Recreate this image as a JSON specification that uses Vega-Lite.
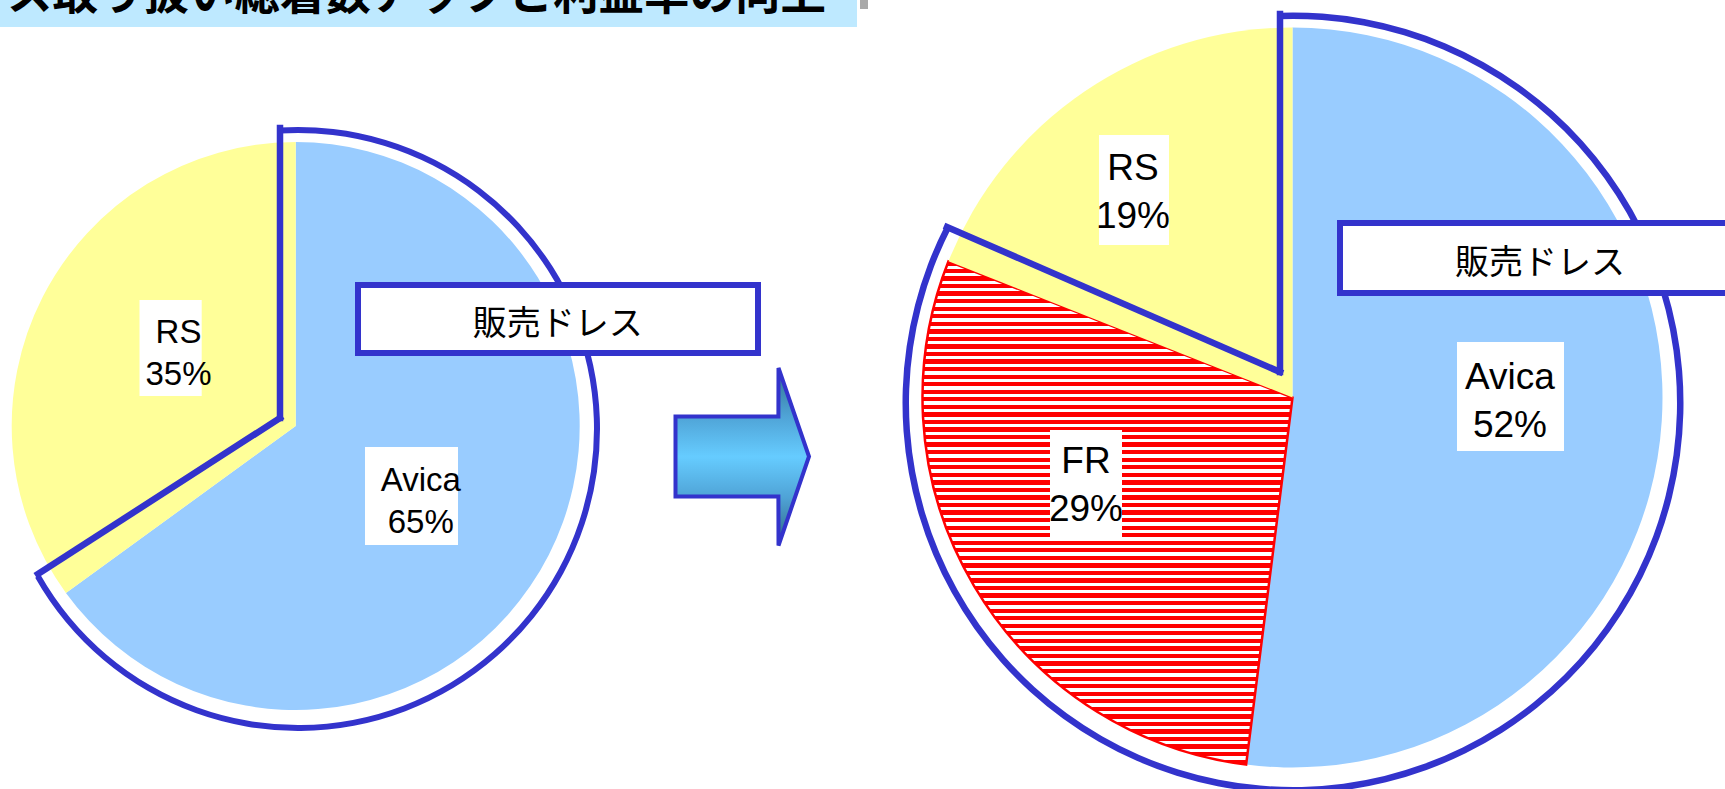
{
  "$schema": "https://vega.github.io/schema/vega-lite/v6.json",
  "width": 1725,
  "height": 789,
  "autosize": "none",
  "padding": 0,
  "background": "white",
  "config": {"view": {"stroke": null}},
  "datasets": {
    "banner": [{"x": 0, "x2": 857, "y": 0, "y2": 27}, {"x": 860, "x2": 868, "y": 0, "y2": 9}],
    "title": [{"text": "ドレス取り扱い総着数アップと利益率の向上", "x": 826, "y": 10}],
    "slices": [
      {"pie": "before", "name": "Avica", "share": 65, "order": 1, "x": 295.7, "y": 426},
      {"pie": "before", "name": "RS", "share": 35, "order": 2, "x": 295.7, "y": 426},
      {"pie": "after", "name": "Avica", "share": 52, "order": 1, "x": 1292.5, "y": 397.5},
      {"pie": "after", "name": "FR", "share": 29, "order": 2, "x": 1292.5, "y": 397.5},
      {"pie": "after", "name": "RS", "share": 19, "order": 3, "x": 1292.5, "y": 397.5}
    ],
    "outline": [
      {"pie": "before", "from": -0.96, "to": 66.8, "x": 298, "y": 429},
      {"pie": "after", "from": -0.53, "to": 82.5, "x": 1293, "y": 403}
    ],
    "outlineEdges": [
      {"x": 280, "y": 128, "x2": 280, "y2": 418},
      {"x": 280, "y": 418, "x2": 38, "y2": 574},
      {"x": 1280, "y": 14, "x2": 1280, "y2": 372},
      {"x": 1280, "y": 372, "x2": 947, "y2": 227}
    ],
    "labelBoxes": [
      {"x": 139.5, "x2": 201.7, "y": 300, "y2": 396},
      {"x": 365, "x2": 458, "y": 447, "y2": 545},
      {"x": 1099, "x2": 1169, "y": 135, "y2": 245},
      {"x": 1050, "x2": 1122, "y": 430, "y2": 539},
      {"x": 1457, "x2": 1564, "y": 342, "y2": 451}
    ],
    "labels": [
      {"pie": "before", "label": "RS\n35%", "x": 178.5, "y": 343.3},
      {"pie": "before", "label": "Avica\n65%", "x": 420.8, "y": 490.7},
      {"pie": "after", "label": "RS\n19%", "x": 1133, "y": 180},
      {"pie": "after", "label": "FR\n29%", "x": 1086, "y": 473},
      {"pie": "after", "label": "Avica\n52%", "x": 1510, "y": 388.5}
    ],
    "groupBoxes": [
      {"x": 358, "x2": 758, "y": 285, "y2": 353},
      {"x": 1340, "x2": 1760, "y": 223, "y2": 293}
    ],
    "groupText": [
      {"text": "販売ドレス", "x": 557.8, "y": 335},
      {"text": "販売ドレス", "x": 1540, "y": 274}
    ],
    "arrow": [
      {"x": 675.5, "y": 416.5, "y2": 496.5},
      {"x": 778.4, "y": 416.5, "y2": 496.5},
      {"x": 778.5, "y": 368, "y2": 545.5},
      {"x": 809, "y": 456.5, "y2": 456.5}
    ]
  },
  "encoding": {
    "x": {"field": "x", "type": "quantitative", "scale": {"domain": [0, 1725], "nice": false, "zero": false}, "axis": null},
    "y": {"field": "y", "type": "quantitative", "scale": {"domain": [0, 789], "nice": false, "zero": false, "reverse": true}, "axis": null}
  },
  "layer": [
    {
      "data": {"name": "banner"},
      "mark": {"type": "rect"},
      "encoding": {"x2": {"field": "x2"}, "y2": {"field": "y2"},
        "fill": {"condition": {"test": "datum.x > 0", "value": "#A9A9A9"}, "value": "#BEE9FF"}}
    },
    {
      "data": {"name": "title"},
      "mark": {"type": "text", "align": "right", "baseline": "alphabetic", "font": "Noto Sans CJK JP", "fontWeight": "bold", "fontSize": 45.5, "color": "#000000", "clip": true},
      "encoding": {"text": {"field": "text"}}
    },
    {
      "data": {"name": "slices"},
      "transform": [{"filter": "datum.pie === 'before'"}],
      "mark": {"type": "arc", "radius": 284},
      "encoding": {
        "theta": {"field": "share", "type": "quantitative", "stack": true, "scale": {"domain": [0, 100]}},
        "order": {"field": "order", "type": "quantitative"},
        "fill": {"field": "name", "type": "nominal", "scale": {"domain": ["Avica", "RS", "FR"], "range": ["#99CCFF", "#FFFF99", "#FF0000"]}, "legend": null}
      }
    },
    {
      "data": {"name": "slices"},
      "transform": [{"filter": "datum.pie === 'after'"}],
      "mark": {"type": "arc", "radius": 370},
      "encoding": {
        "theta": {"field": "share", "type": "quantitative", "stack": true, "scale": {"domain": [0, 100]}},
        "order": {"field": "order", "type": "quantitative"},
        "fill": {
          "condition": {"test": "datum.name === 'FR'", "value": {"gradient": "linear", "x1": 0, "y1": 0, "x2": 0, "y2": 1, "stops": [
{"offset":0,"color":"#f00"},{"offset":0.0085,"color":"#f00"},{"offset":0.0085,"color":"#fff"},{"offset":0.015,"color":"#fff"},
{"offset":0.015,"color":"#f00"},{"offset":0.0235,"color":"#f00"},{"offset":0.0235,"color":"#fff"},{"offset":0.03,"color":"#fff"},
{"offset":0.03,"color":"#f00"},{"offset":0.0385,"color":"#f00"},{"offset":0.0385,"color":"#fff"},{"offset":0.045,"color":"#fff"},
{"offset":0.045,"color":"#f00"},{"offset":0.0535,"color":"#f00"},{"offset":0.0535,"color":"#fff"},{"offset":0.06,"color":"#fff"},
{"offset":0.06,"color":"#f00"},{"offset":0.0685,"color":"#f00"},{"offset":0.0685,"color":"#fff"},{"offset":0.075,"color":"#fff"},
{"offset":0.075,"color":"#f00"},{"offset":0.0835,"color":"#f00"},{"offset":0.0835,"color":"#fff"},{"offset":0.09,"color":"#fff"},
{"offset":0.09,"color":"#f00"},{"offset":0.0985,"color":"#f00"},{"offset":0.0985,"color":"#fff"},{"offset":0.105,"color":"#fff"},
{"offset":0.105,"color":"#f00"},{"offset":0.1135,"color":"#f00"},{"offset":0.1135,"color":"#fff"},{"offset":0.12,"color":"#fff"},
{"offset":0.12,"color":"#f00"},{"offset":0.1285,"color":"#f00"},{"offset":0.1285,"color":"#fff"},{"offset":0.135,"color":"#fff"},
{"offset":0.135,"color":"#f00"},{"offset":0.1435,"color":"#f00"},{"offset":0.1435,"color":"#fff"},{"offset":0.15,"color":"#fff"},
{"offset":0.15,"color":"#f00"},{"offset":0.1585,"color":"#f00"},{"offset":0.1585,"color":"#fff"},{"offset":0.165,"color":"#fff"},
{"offset":0.165,"color":"#f00"},{"offset":0.1735,"color":"#f00"},{"offset":0.1735,"color":"#fff"},{"offset":0.18,"color":"#fff"},
{"offset":0.18,"color":"#f00"},{"offset":0.1885,"color":"#f00"},{"offset":0.1885,"color":"#fff"},{"offset":0.195,"color":"#fff"},
{"offset":0.195,"color":"#f00"},{"offset":0.2035,"color":"#f00"},{"offset":0.2035,"color":"#fff"},{"offset":0.21,"color":"#fff"},
{"offset":0.21,"color":"#f00"},{"offset":0.2185,"color":"#f00"},{"offset":0.2185,"color":"#fff"},{"offset":0.225,"color":"#fff"},
{"offset":0.225,"color":"#f00"},{"offset":0.2335,"color":"#f00"},{"offset":0.2335,"color":"#fff"},{"offset":0.24,"color":"#fff"},
{"offset":0.24,"color":"#f00"},{"offset":0.2485,"color":"#f00"},{"offset":0.2485,"color":"#fff"},{"offset":0.255,"color":"#fff"},
{"offset":0.255,"color":"#f00"},{"offset":0.2635,"color":"#f00"},{"offset":0.2635,"color":"#fff"},{"offset":0.27,"color":"#fff"},
{"offset":0.27,"color":"#f00"},{"offset":0.2785,"color":"#f00"},{"offset":0.2785,"color":"#fff"},{"offset":0.285,"color":"#fff"},
{"offset":0.285,"color":"#f00"},{"offset":0.2935,"color":"#f00"},{"offset":0.2935,"color":"#fff"},{"offset":0.3,"color":"#fff"},
{"offset":0.3,"color":"#f00"},{"offset":0.3085,"color":"#f00"},{"offset":0.3085,"color":"#fff"},{"offset":0.315,"color":"#fff"},
{"offset":0.315,"color":"#f00"},{"offset":0.3235,"color":"#f00"},{"offset":0.3235,"color":"#fff"},{"offset":0.33,"color":"#fff"},
{"offset":0.33,"color":"#f00"},{"offset":0.3385,"color":"#f00"},{"offset":0.3385,"color":"#fff"},{"offset":0.345,"color":"#fff"},
{"offset":0.345,"color":"#f00"},{"offset":0.3535,"color":"#f00"},{"offset":0.3535,"color":"#fff"},{"offset":0.36,"color":"#fff"},
{"offset":0.36,"color":"#f00"},{"offset":0.3685,"color":"#f00"},{"offset":0.3685,"color":"#fff"},{"offset":0.375,"color":"#fff"},
{"offset":0.375,"color":"#f00"},{"offset":0.3835,"color":"#f00"},{"offset":0.3835,"color":"#fff"},{"offset":0.39,"color":"#fff"},
{"offset":0.39,"color":"#f00"},{"offset":0.3985,"color":"#f00"},{"offset":0.3985,"color":"#fff"},{"offset":0.405,"color":"#fff"},
{"offset":0.405,"color":"#f00"},{"offset":0.4135,"color":"#f00"},{"offset":0.4135,"color":"#fff"},{"offset":0.42,"color":"#fff"},
{"offset":0.42,"color":"#f00"},{"offset":0.4285,"color":"#f00"},{"offset":0.4285,"color":"#fff"},{"offset":0.435,"color":"#fff"},
{"offset":0.435,"color":"#f00"},{"offset":0.4435,"color":"#f00"},{"offset":0.4435,"color":"#fff"},{"offset":0.45,"color":"#fff"},
{"offset":0.45,"color":"#f00"},{"offset":0.4585,"color":"#f00"},{"offset":0.4585,"color":"#fff"},{"offset":0.465,"color":"#fff"},
{"offset":0.465,"color":"#f00"},{"offset":0.4735,"color":"#f00"},{"offset":0.4735,"color":"#fff"},{"offset":0.48,"color":"#fff"},
{"offset":0.48,"color":"#f00"},{"offset":0.4885,"color":"#f00"},{"offset":0.4885,"color":"#fff"},{"offset":0.495,"color":"#fff"},
{"offset":0.495,"color":"#f00"},{"offset":0.5035,"color":"#f00"},{"offset":0.5035,"color":"#fff"},{"offset":0.51,"color":"#fff"},
{"offset":0.51,"color":"#f00"},{"offset":0.5185,"color":"#f00"},{"offset":0.5185,"color":"#fff"},{"offset":0.525,"color":"#fff"},
{"offset":0.525,"color":"#f00"},{"offset":0.5335,"color":"#f00"},{"offset":0.5335,"color":"#fff"},{"offset":0.54,"color":"#fff"},
{"offset":0.54,"color":"#f00"},{"offset":0.5485,"color":"#f00"},{"offset":0.5485,"color":"#fff"},{"offset":0.555,"color":"#fff"},
{"offset":0.555,"color":"#f00"},{"offset":0.5635,"color":"#f00"},{"offset":0.5635,"color":"#fff"},{"offset":0.57,"color":"#fff"},
{"offset":0.57,"color":"#f00"},{"offset":0.5785,"color":"#f00"},{"offset":0.5785,"color":"#fff"},{"offset":0.585,"color":"#fff"},
{"offset":0.585,"color":"#f00"},{"offset":0.5935,"color":"#f00"},{"offset":0.5935,"color":"#fff"},{"offset":0.6,"color":"#fff"},
{"offset":0.6,"color":"#f00"},{"offset":0.6085,"color":"#f00"},{"offset":0.6085,"color":"#fff"},{"offset":0.615,"color":"#fff"},
{"offset":0.615,"color":"#f00"},{"offset":0.6235,"color":"#f00"},{"offset":0.6235,"color":"#fff"},{"offset":0.63,"color":"#fff"},
{"offset":0.63,"color":"#f00"},{"offset":0.6385,"color":"#f00"},{"offset":0.6385,"color":"#fff"},{"offset":0.645,"color":"#fff"},
{"offset":0.645,"color":"#f00"},{"offset":0.6535,"color":"#f00"},{"offset":0.6535,"color":"#fff"},{"offset":0.66,"color":"#fff"},
{"offset":0.66,"color":"#f00"},{"offset":0.6685,"color":"#f00"},{"offset":0.6685,"color":"#fff"},{"offset":0.675,"color":"#fff"},
{"offset":0.675,"color":"#f00"},{"offset":0.6835,"color":"#f00"},{"offset":0.6835,"color":"#fff"},{"offset":0.69,"color":"#fff"},
{"offset":0.69,"color":"#f00"},{"offset":0.6985,"color":"#f00"},{"offset":0.6985,"color":"#fff"},{"offset":0.705,"color":"#fff"},
{"offset":0.705,"color":"#f00"},{"offset":0.7135,"color":"#f00"},{"offset":0.7135,"color":"#fff"},{"offset":0.72,"color":"#fff"},
{"offset":0.72,"color":"#f00"},{"offset":0.7285,"color":"#f00"},{"offset":0.7285,"color":"#fff"},{"offset":0.735,"color":"#fff"},
{"offset":0.735,"color":"#f00"},{"offset":0.7435,"color":"#f00"},{"offset":0.7435,"color":"#fff"},{"offset":0.75,"color":"#fff"},
{"offset":0.75,"color":"#f00"},{"offset":0.7585,"color":"#f00"},{"offset":0.7585,"color":"#fff"},{"offset":0.765,"color":"#fff"},
{"offset":0.765,"color":"#f00"},{"offset":0.7735,"color":"#f00"},{"offset":0.7735,"color":"#fff"},{"offset":0.78,"color":"#fff"},
{"offset":0.78,"color":"#f00"},{"offset":0.7885,"color":"#f00"},{"offset":0.7885,"color":"#fff"},{"offset":0.795,"color":"#fff"},
{"offset":0.795,"color":"#f00"},{"offset":0.8035,"color":"#f00"},{"offset":0.8035,"color":"#fff"},{"offset":0.81,"color":"#fff"},
{"offset":0.81,"color":"#f00"},{"offset":0.8185,"color":"#f00"},{"offset":0.8185,"color":"#fff"},{"offset":0.825,"color":"#fff"},
{"offset":0.825,"color":"#f00"},{"offset":0.8335,"color":"#f00"},{"offset":0.8335,"color":"#fff"},{"offset":0.84,"color":"#fff"},
{"offset":0.84,"color":"#f00"},{"offset":0.8485,"color":"#f00"},{"offset":0.8485,"color":"#fff"},{"offset":0.855,"color":"#fff"},
{"offset":0.855,"color":"#f00"},{"offset":0.8635,"color":"#f00"},{"offset":0.8635,"color":"#fff"},{"offset":0.87,"color":"#fff"},
{"offset":0.87,"color":"#f00"},{"offset":0.8785,"color":"#f00"},{"offset":0.8785,"color":"#fff"},{"offset":0.885,"color":"#fff"},
{"offset":0.885,"color":"#f00"},{"offset":0.8935,"color":"#f00"},{"offset":0.8935,"color":"#fff"},{"offset":0.9,"color":"#fff"},
{"offset":0.9,"color":"#f00"},{"offset":0.9085,"color":"#f00"},{"offset":0.9085,"color":"#fff"},{"offset":0.915,"color":"#fff"},
{"offset":0.915,"color":"#f00"},{"offset":0.9235,"color":"#f00"},{"offset":0.9235,"color":"#fff"},{"offset":0.93,"color":"#fff"},
{"offset":0.93,"color":"#f00"},{"offset":0.9385,"color":"#f00"},{"offset":0.9385,"color":"#fff"},{"offset":0.945,"color":"#fff"},
{"offset":0.945,"color":"#f00"},{"offset":0.9535,"color":"#f00"},{"offset":0.9535,"color":"#fff"},{"offset":0.96,"color":"#fff"},
{"offset":0.96,"color":"#f00"},{"offset":0.9685,"color":"#f00"},{"offset":0.9685,"color":"#fff"},{"offset":0.975,"color":"#fff"},
{"offset":0.975,"color":"#f00"},{"offset":0.9835,"color":"#f00"},{"offset":0.9835,"color":"#fff"},{"offset":0.99,"color":"#fff"},
{"offset":0.99,"color":"#f00"},{"offset":0.9985,"color":"#f00"},{"offset":0.9985,"color":"#fff"},{"offset":1,"color":"#fff"}
          ]}},
          "field": "name", "type": "nominal",
          "scale": {"domain": ["Avica", "RS", "FR"], "range": ["#99CCFF", "#FFFF99", "#FF0000"]},
          "legend": null
        },
        "stroke": {"condition": {"test": "datum.name === 'FR'", "value": "#FF0000"}, "value": null},
        "strokeWidth": {"condition": {"test": "datum.name === 'FR'", "value": 2.5}, "value": 0},
        "strokeDash": {"condition": {"test": "datum.name === 'FR'", "value": [6, 4]}, "value": [1, 0]}
      }
    },
    {
      "data": {"name": "outline"},
      "transform": [{"filter": "datum.pie === 'before'"}],
      "mark": {"type": "arc", "radius": 302, "radius2": 296, "fill": "#3333CC"},
      "encoding": {
        "theta": {"field": "from", "type": "quantitative", "stack": null, "scale": {"domain": [0, 100]}},
        "theta2": {"field": "to"}
      }
    },
    {
      "data": {"name": "outline"},
      "transform": [{"filter": "datum.pie === 'after'"}],
      "mark": {"type": "arc", "radius": 390.5, "radius2": 384, "fill": "#3333CC"},
      "encoding": {
        "theta": {"field": "from", "type": "quantitative", "stack": null, "scale": {"domain": [0, 100]}},
        "theta2": {"field": "to"}
      }
    },
    {
      "data": {"name": "outlineEdges"},
      "mark": {"type": "rule", "color": "#3333CC", "strokeWidth": 6.5, "strokeCap": "square"},
      "encoding": {"x2": {"field": "x2"}, "y2": {"field": "y2"}}
    },
    {
      "data": {"name": "labelBoxes"},
      "mark": {"type": "rect", "fill": "#FFFFFF"},
      "encoding": {"x2": {"field": "x2"}, "y2": {"field": "y2"}}
    },
    {
      "data": {"name": "labels"},
      "transform": [{"filter": "datum.pie === 'before'"}],
      "mark": {"type": "text", "align": "center", "baseline": "alphabetic", "lineBreak": "\n", "lineHeight": 42, "font": "Liberation Sans", "fontSize": 33, "color": "#000000"},
      "encoding": {"text": {"field": "label"}}
    },
    {
      "data": {"name": "labels"},
      "transform": [{"filter": "datum.pie === 'after'"}],
      "mark": {"type": "text", "align": "center", "baseline": "alphabetic", "lineBreak": "\n", "lineHeight": 48, "font": "Liberation Sans", "fontSize": 37, "color": "#000000"},
      "encoding": {"text": {"field": "label"}}
    },
    {
      "data": {"name": "groupBoxes"},
      "mark": {"type": "rect", "fill": "#FFFFFF", "stroke": "#3333CC", "strokeWidth": 6, "clip": true},
      "encoding": {"x2": {"field": "x2"}, "y2": {"field": "y2"}}
    },
    {
      "data": {"name": "groupText"},
      "mark": {"type": "text", "align": "center", "baseline": "alphabetic", "font": "Noto Sans CJK JP", "fontSize": 34, "color": "#000000"},
      "encoding": {"text": {"field": "text"}}
    },
    {
      "data": {"name": "arrow"},
      "mark": {"type": "area", "interpolate": "linear", "stroke": "#3333CC", "strokeWidth": 4, "strokeJoin": "miter",
        "fill": {"gradient": "linear", "x1": 0, "y1": 0, "x2": 0, "y2": 1, "stops": [
          {"offset": 0, "color": "#2F7090"},
          {"offset": 0.27, "color": "#4FA3D6"},
          {"offset": 0.5, "color": "#66CCFF"},
          {"offset": 0.73, "color": "#4FA3D6"},
          {"offset": 1, "color": "#2E6585"}
        ]}},
      "encoding": {"y2": {"field": "y2"}}
    }
  ]
}
